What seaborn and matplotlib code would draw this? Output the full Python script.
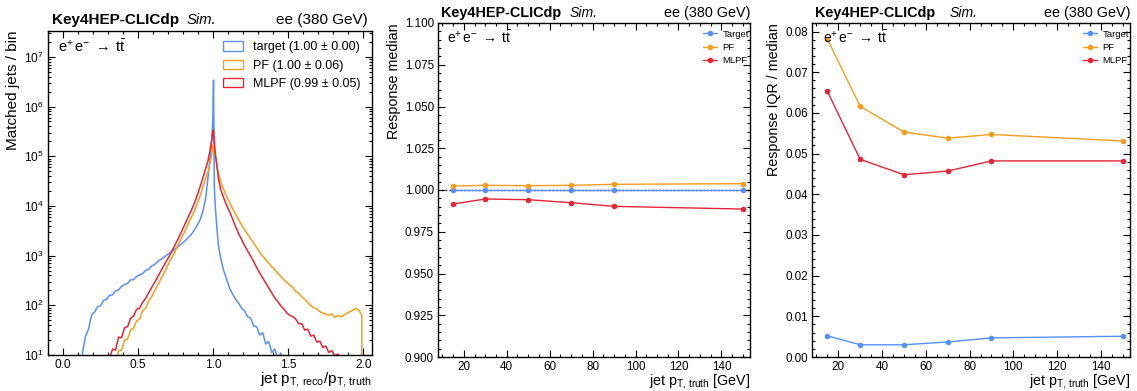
import numpy as np
import pandas as pd
import matplotlib
matplotlib.use("Agg")
import matplotlib.pyplot as plt
import seaborn as sns
from matplotlib.patches import Patch
from matplotlib.ticker import (MultipleLocator, LogLocator, NullFormatter, FormatStrFormatter,
                               FixedLocator, LogFormatterSciNotation)

# ---------------- data ----------------
SERIES_HIST = ["target (1.00 ± 0.00)", "PF (1.00 ± 0.06)", "MLPF (0.99 ± 0.05)"]
SERIES_LINE = ["Target", "PF", "MLPF"]

BIN_EDGES = ([round(0.02 * i, 3) for i in range(49)]
             + [0.97, 0.98, 0.99, 0.995, 1.0, 1.005, 1.01, 1.02, 1.03, 1.04]
             + [round(1.04 + 0.02 * i, 3) for i in range(1, 50)])
Y_TICKS_LEFT = [1e1, 1e2, 1e3, 1e4, 1e5, 1e6, 1e7]

N = np.nan
# log10(matched jets / bin)
TARGET_LOG = ([N, N, N, N, N, N, 1.05, 1.38, 1.52, 1.80, 1.86, 1.97, 1.99, 2.10, 2.12, 2.20,
               2.21, 2.29, 2.31, 2.38, 2.42, 2.44, 2.51, 2.52, 2.58, 2.61, 2.64, 2.70, 2.73, 2.79,
               2.82, 2.88, 2.92, 2.96, 3.01, 3.05, 3.10, 3.14, 3.19, 3.24, 3.29, 3.35, 3.41, 3.49,
               3.59, 3.70, 3.87, 4.15]
              + [4.55, 4.85, 5.10, 5.40, 5.70, 6.53, 4.40, 3.95, 3.55, 3.20]
              + [2.95, 2.70, 2.52, 2.34, 2.22, 2.12, 2.04, 1.94, 1.88, 1.77, 1.74, 1.58, 1.57,
                 1.40, 1.45, 1.22, 1.27, 1.05, 1.12, 0.92, 1.04, 0.85]
              + [N] * 27)
PF_LOG = ([N] * 17
          + [0.85, 1.08, 1.10, 1.30, 1.32, 1.50, 1.54, 1.69, 1.72, 1.89, 1.94, 2.08, 2.17, 2.29,
             2.40, 2.52, 2.63, 2.75, 2.88, 2.99, 3.11, 3.24, 3.36, 3.48, 3.61, 3.74, 3.87, 4.01,
             4.18, 4.36, 4.55]
          + [4.68, 4.80, 4.95, 5.08, 5.20, 5.24, 5.15, 5.00, 4.82, 4.65]
          + [4.48, 4.33, 4.19, 4.06, 3.94, 3.83, 3.72, 3.61, 3.52, 3.43, 3.34, 3.25, 3.16, 3.07,
             2.99, 2.92, 2.85, 2.78, 2.72, 2.65, 2.58, 2.52, 2.46, 2.41, 2.36, 2.28, 2.24, 2.17,
             2.12, 2.06, 2.00, 1.95, 1.93, 1.87, 1.85, 1.82, 1.80, 1.83, 1.76, 1.79, 1.77, 1.80,
             1.84, 1.87, 1.90, 1.94, 1.90, 1.80, N])
MLPF_LOG = ([N] * 14
            + [0.88, 0.93, 1.12, 1.10, 1.36, 1.35, 1.55, 1.57, 1.74, 1.78, 1.92, 1.94, 2.06, 2.14,
               2.25, 2.36, 2.46, 2.57, 2.68, 2.79, 2.90, 3.00, 3.12, 3.24, 3.36, 3.49, 3.62, 3.75,
               3.88, 4.02, 4.18, 4.36, 4.55, 4.75]
            + [4.90, 5.05, 5.22, 5.38, 5.50, 5.53, 5.30, 5.05, 4.80, 4.55]
            + [4.33, 4.16, 4.01, 3.88, 3.73, 3.58, 3.44, 3.32, 3.20, 3.09, 2.99, 2.88, 2.76, 2.65,
               2.55, 2.45, 2.35, 2.25, 2.15, 2.08, 1.99, 1.93, 1.85, 1.80, 1.77, 1.72, 1.63, 1.63,
               1.50, 1.52, 1.38, 1.40, 1.26, 1.28, 1.15, 1.18, 1.05, 1.09, 0.98, 1.02, 0.90]
            + [N] * 8)

PT_TRUTH = [15, 30, 50, 70, 90, 150]
MEDIAN_TARGET = [1.0000, 1.0000, 1.0000, 1.0000, 1.0000, 1.0000]
MEDIAN_PF = [1.0024, 1.0028, 1.0026, 1.0028, 1.0034, 1.0038]
MEDIAN_MLPF = [0.9916, 0.9946, 0.9942, 0.9924, 0.9902, 0.9886]
IQR_TARGET = [0.0052, 0.0030, 0.0030, 0.0037, 0.0047, 0.0051]
IQR_PF = [0.0782, 0.0616, 0.0553, 0.0538, 0.0547, 0.0531]
IQR_MLPF = [0.0653, 0.0486, 0.0448, 0.0457, 0.0482, 0.0482]

COLORS = ["#5790fc", "#f89c20", "#e42536"]

# ---------------- style ----------------
sns.set_theme(style="ticks")
plt.rcParams["font.family"] = ["Liberation Sans", "DejaVu Sans"]
plt.rcParams["mathtext.fontset"] = "custom"
plt.rcParams["mathtext.rm"] = "Liberation Sans"
plt.rcParams["mathtext.it"] = "Liberation Sans:italic"
plt.rcParams["mathtext.bf"] = "Liberation Sans:bold"
plt.rcParams["mathtext.default"] = "regular"
plt.rcParams["axes.edgecolor"] = "black"
plt.rcParams["xtick.color"] = "black"
plt.rcParams["ytick.color"] = "black"
plt.rcParams["text.color"] = "black"
plt.rcParams["axes.labelcolor"] = "black"

W, H = 1137, 391
fig = plt.figure(figsize=(W / 100, H / 100), dpi=100)


def px_axes(l, r, t, b):
    return fig.add_axes([l / W, 1 - b / H, (r - l) / W, (b - t) / H])


ax1 = px_axes(48, 372, 31, 355)
ax2 = px_axes(438, 750, 23, 357)
ax3 = px_axes(812, 1130, 23, 357)


def style_axes(ax, tick_fs):
    ax.tick_params(which="both", direction="in", top=True, right=True,
                   bottom=True, left=True, labelsize=tick_fs, pad=3)
    ax.tick_params(which="major", length=5, width=0.8)
    ax.tick_params(which="minor", length=2.5, width=0.8)
    for s in ax.spines.values():
        s.set_linewidth(1.0)
        s.set_color("black")


def header(ax, fs, x0, xs, xr, yb):
    ax.text(x0, yb, "Key4HEP-CLICdp", transform=ax.transAxes, fontsize=fs,
            fontweight="bold", ha="left", va="baseline")
    ax.text(xs, yb, "Sim.", transform=ax.transAxes, fontsize=fs - 0.3,
            fontstyle="italic", ha="left", va="baseline")
    ax.text(xr, yb, "ee (380 GeV)", transform=ax.transAxes, fontsize=fs,
            ha="right", va="baseline")


PROCESS = r"$e^{+}\,e^{-}\;\rightarrow\;t\bar{t}$"

# ---------------- left: response histogram ----------------
edges = [float(e) for e in BIN_EDGES]
centers = [0.5 * (a + b) for a, b in zip(edges[:-1], edges[1:])]
for logs, color in zip([TARGET_LOG, PF_LOG, MLPF_LOG], COLORS):
    w = np.nan_to_num(10.0 ** np.array(logs, dtype=float), nan=0.0)
    df = pd.DataFrame({"response": centers, "count": w})
    sns.histplot(data=df, x="response", weights="count", bins=edges, element="poly",
                 fill=False, color=color, linewidth=1.1, ax=ax1)
ax1.set_yscale("log")
ax1.set_xlim(-0.1, 2.058)
ax1.set_ylim(10, 10 ** 7.52)
ax1.xaxis.set_major_locator(MultipleLocator(0.5))
ax1.xaxis.set_minor_locator(MultipleLocator(0.1))
ax1.xaxis.set_major_formatter(FormatStrFormatter("%.1f"))
ax1.yaxis.set_major_locator(FixedLocator(Y_TICKS_LEFT))
ax1.yaxis.set_major_formatter(LogFormatterSciNotation())
ax1.yaxis.set_minor_locator(LogLocator(base=10, subs=np.arange(2, 10), numticks=20))
ax1.yaxis.set_minor_formatter(NullFormatter())
style_axes(ax1, 8.6)
ax1.set_xlabel(r"jet $p_{T,\,reco}/p_{T,\,truth}$", fontsize=11, loc="right", labelpad=-1)
ax1.set_ylabel("Matched jets / bin", fontsize=11, loc="top", labelpad=3)
handles = [Patch(facecolor="none", edgecolor=c, linewidth=1.0) for c in COLORS]
ax1.legend(handles, SERIES_HIST, loc="upper right", bbox_to_anchor=(0.963, 0.968),
           frameon=False, fontsize=9, handlelength=1.6, handleheight=0.75,
           handletextpad=0.8, labelspacing=0.5, borderpad=0, borderaxespad=0)
ax1.text(0.031, 0.936, PROCESS, transform=ax1.transAxes, fontsize=10.5,
         ha="left", va="baseline")
header(ax1, 11, 0.011, 0.429, 0.987, 1.0216)

# ---------------- middle: response median ----------------
ax2.axhline(1.0, color="black", linestyle=":", linewidth=1.0, zorder=1)
for name, vals, color in zip(SERIES_LINE, [MEDIAN_TARGET, MEDIAN_PF, MEDIAN_MLPF], COLORS):
    sns.lineplot(x=PT_TRUTH, y=vals, marker="o", markersize=4, markeredgewidth=0,
                 color=color, linewidth=1.0, label=name, ax=ax2, zorder=3)
ax2.set_xlim(8.0, 153.3)
ax2.set_ylim(0.9, 1.1)
ax2.yaxis.set_major_locator(MultipleLocator(0.025))
ax2.yaxis.set_minor_locator(MultipleLocator(0.005))
ax2.yaxis.set_major_formatter(FormatStrFormatter("%.3f"))
ax2.xaxis.set_major_locator(MultipleLocator(20))
ax2.xaxis.set_minor_locator(MultipleLocator(5))
style_axes(ax2, 8.4)
ax2.set_xlabel(r"jet $p_{T,\,truth}$ [GeV]", fontsize=10.3, loc="right", labelpad=-1)
ax2.set_ylabel("Response median", fontsize=10.3, loc="top", labelpad=3)
ax2.legend(loc="upper right", bbox_to_anchor=(0.996, 0.98), frameon=False, fontsize=6.8,
           handlelength=1.5, handletextpad=0.55, labelspacing=0.45, borderpad=0,
           borderaxespad=0)
ax2.text(0.029, 0.939, PROCESS, transform=ax2.transAxes, fontsize=10,
         ha="left", va="baseline")
header(ax2, 10.4, 0.0096, 0.423, 1.0, 1.019)

# ---------------- right: response IQR / median ----------------
for name, vals, color in zip(SERIES_LINE, [IQR_TARGET, IQR_PF, IQR_MLPF], COLORS):
    sns.lineplot(x=PT_TRUTH, y=vals, marker="o", markersize=4, markeredgewidth=0,
                 color=color, linewidth=1.0, label=name, ax=ax3, zorder=3)
ax3.set_xlim(8.0, 153.3)
ax3.set_ylim(0.0, 0.0821)
ax3.yaxis.set_major_locator(MultipleLocator(0.01))
ax3.yaxis.set_minor_locator(MultipleLocator(0.002))
ax3.yaxis.set_major_formatter(FormatStrFormatter("%.2f"))
ax3.xaxis.set_major_locator(MultipleLocator(20))
ax3.xaxis.set_minor_locator(MultipleLocator(5))
style_axes(ax3, 8.4)
ax3.set_xlabel(r"jet $p_{T,\,truth}$ [GeV]", fontsize=10.3, loc="right", labelpad=-1)
ax3.set_ylabel("Response IQR / median", fontsize=10.3, loc="top", labelpad=3)
ax3.legend(loc="upper right", bbox_to_anchor=(0.997, 0.98), frameon=False, fontsize=6.8,
           handlelength=1.5, handletextpad=0.55, labelspacing=0.45, borderpad=0,
           borderaxespad=0)
ax3.text(0.034, 0.939, PROCESS, transform=ax3.transAxes, fontsize=10,
         ha="left", va="baseline")
header(ax3, 10.4, 0.0096, 0.434, 1.0, 1.019)

fig.savefig("out.png", dpi=100)
